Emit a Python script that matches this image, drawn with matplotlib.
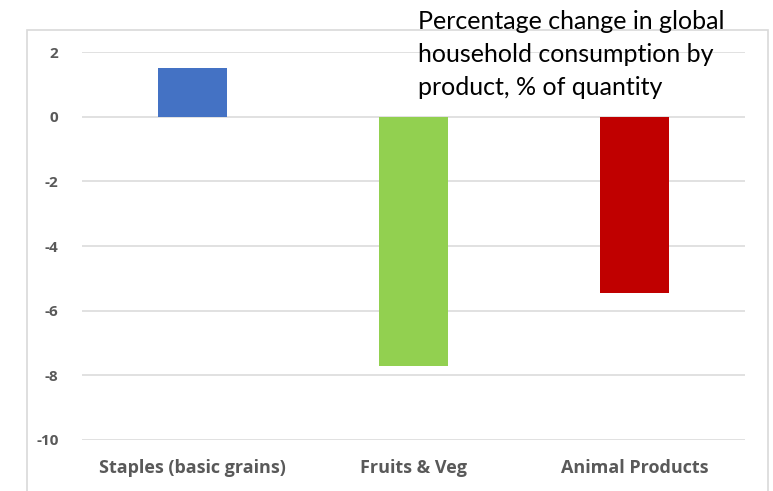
import matplotlib
matplotlib.use('Agg')
import matplotlib.pyplot as plt
from matplotlib.patches import Rectangle

# ---------------------------------------------------
# DATA
# ---------------------------------------------------
categories = ['Staples (basic grains)', 'Fruits & Veg', 'Animal Products']
values = [1.51, -7.70, -5.44]
colors = ['#4472C4', '#92D050', '#C00000']
yticks = [2, 0, -2, -4, -6, -8, -10]

title = ("Percentage change in global\n"
         "household consumption by\n"
         "product, % of quantity")

# ---------------------------------------------------
# FIGURE
# ---------------------------------------------------
W, H = 773, 491
fig = plt.figure(figsize=(W / 100, H / 100), dpi=100)
fig.patch.set_facecolor('white')

# outer chart frame (runs past the bottom edge)
frame = Rectangle((27 / W, -0.05), (768 - 27) / W, (H - 30) / H + 0.05,
                  transform=fig.transFigure, fill=False,
                  edgecolor='#d9d9d9', linewidth=1.2)
fig.patches.append(frame)

ax = fig.add_axes([82 / W, (H - 440) / H, 663 / W, 388 / H])
ax.set_facecolor('none')

x = range(len(categories))
ax.bar(x, values, width=0.315, color=colors, zorder=3)

ax.set_xlim(-0.5, len(categories) - 0.5)
ax.set_ylim(-10, 2)
ax.set_yticks(yticks)
ax.set_yticklabels([str(v) for v in yticks])
ax.set_xticks(list(x))
ax.set_xticklabels(categories)

ax.grid(axis='y', color='#d9d9d9', linewidth=1.1, zorder=0)
for s in ax.spines.values():
    s.set_visible(False)
ax.tick_params(length=0)
ax.tick_params(axis='y', pad=17, labelsize=11, labelcolor='#595959')
ax.tick_params(axis='x', pad=14, labelsize=13, labelcolor='#595959')
for lab in ax.get_xticklabels() + ax.get_yticklabels():
    lab.set_fontfamily('Open Sans')
    lab.set_fontweight('bold')

# title in the upper right
fig.text(418 / W, 1 - 10 / H, title, ha='left', va='top',
         fontsize=18, family='Lato', color='black', linespacing=1.52)

fig.savefig('out.png', dpi=100)
